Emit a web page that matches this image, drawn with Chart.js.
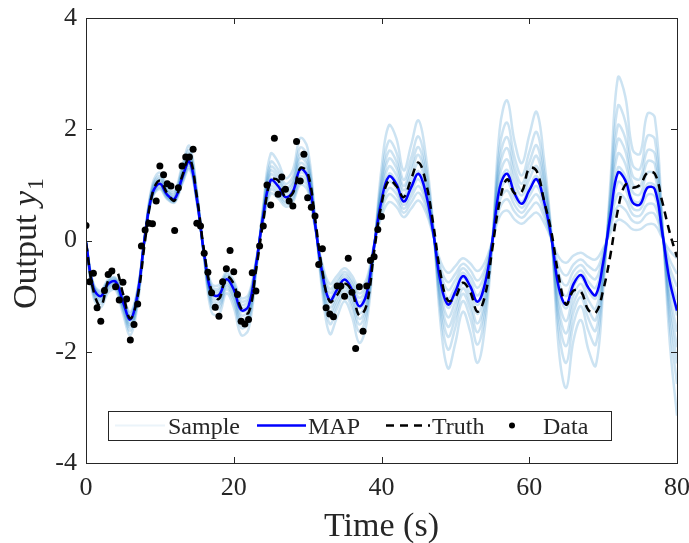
<!DOCTYPE html>
<html>
<head>
<meta charset="utf-8">
<script src="https://cdn.jsdelivr.net/npm/chart.js@4.4.1/dist/chart.umd.min.js"></script>
<style>
  html, body { margin: 0; padding: 0; background: #fff; }
  #wrap { width: 689px; height: 543px; }
</style>
</head>
<body>
<div id="wrap"><canvas id="fig" width="689" height="543"></canvas></div>
<script>
// time grid (s) for the curves
const time = [0,1,2,3,4,5,6,7,8,9,10,11,12,13,14,15,16,17,18,19,20,21,22,23,24,25,26,27,28,29,30,
  31,32,33,34,35,36,37,38,39,40,41,42,43,44,45,46,47,48,49,50,51,52,53,54,55,56,57,58,59,60,
  61,62,63,64,65,66,67,68,69,70,71,72,73,74,75,76,77,78,79,80];

const mapY = [-0.03,-0.85,-1.00,-0.78,-0.74,-1.10,-1.42,-0.95,
  0.10,0.85,1.02,0.82,0.75,1.12,1.42,0.75,
  -0.25,-0.95,-0.98,-0.70,-0.88,-1.25,-1.18,-0.45,
  0.45,1.08,0.98,0.78,0.88,1.28,1.15,0.30,
  -0.60,-1.08,-0.88,-0.70,-0.88,-1.18,-0.95,-0.10,
  0.72,1.15,1.02,0.70,0.95,1.20,0.85,0.15,
  -0.75,-1.15,-0.92,-0.64,-0.82,-1.10,-0.78,
  -0.02,0.95,1.20,0.85,0.66,0.90,1.10,0.70,
  0.05,-0.85,-1.15,-0.78,-0.62,-0.85,-0.98,-0.40,
  0.45,1.22,1.08,0.68,0.65,0.95,0.92,0.15,
  -0.72,-1.26];

const truthY = [-0.05,-0.90,-1.18,-0.72,-0.52,-0.95,-1.40,-1.00,
  0.00,0.85,1.08,0.85,0.72,1.15,1.48,0.80,
  -0.20,-0.90,-1.05,-0.65,-0.78,-1.22,-1.30,-0.55,
  0.35,1.08,1.08,0.78,0.85,1.30,1.22,0.40,
  -0.55,-1.10,-0.98,-0.78,-0.92,-1.35,-1.15,-0.20,
  0.65,1.08,0.98,0.78,1.10,1.40,1.05,0.30,
  -0.60,-1.08,-1.02,-0.76,-0.92,-1.28,-1.00,
  -0.15,0.70,1.10,0.85,0.88,1.30,1.25,0.72,
  0.15,-0.65,-1.15,-0.90,-0.92,-1.25,-1.30,-0.90,
  -0.25,0.55,1.00,0.95,1.00,1.22,1.20,0.70,
  0.15,-0.30];

// posterior samples
const sample1 = [-0.03,-0.77,-0.90,-0.70,-0.67,-0.99,-1.28,-0.86,
  0.09,0.77,0.92,0.74,0.68,1.01,1.28,0.68,
  -0.21,-0.78,-0.80,-0.57,-0.72,-1.03,-0.97,-0.37,
  0.35,0.84,0.76,0.61,0.69,1.00,0.90,0.23,
  -0.43,-0.78,-0.63,-0.50,-0.63,-0.85,-0.68,-0.07,
  0.43,0.69,0.61,0.42,0.57,0.72,0.51,0.09,
  -0.38,-0.58,-0.46,-0.32,-0.41,-0.55,-0.39,
  -0.01,0.43,0.54,0.38,0.30,0.41,0.50,0.32,
  0.02,-0.30,-0.40,-0.27,-0.22,-0.30,-0.34,-0.14,
  0.14,0.37,0.32,0.20,0.20,0.29,0.28,0.05,
  -0.18,-0.32];
const sample2 = [-0.03,-0.79,-0.93,-0.73,-0.69,-1.02,-1.32,-0.88,
  0.09,0.79,0.95,0.76,0.70,1.04,1.32,0.70,
  -0.22,-0.83,-0.86,-0.61,-0.77,-1.09,-1.03,-0.39,
  0.38,0.91,0.83,0.66,0.74,1.08,0.97,0.25,
  -0.48,-0.87,-0.71,-0.56,-0.71,-0.95,-0.76,-0.08,
  0.52,0.83,0.73,0.50,0.68,0.86,0.61,0.11,
  -0.49,-0.75,-0.60,-0.42,-0.53,-0.72,-0.51,
  -0.01,0.58,0.74,0.52,0.41,0.55,0.68,0.43,
  0.03,-0.46,-0.63,-0.43,-0.34,-0.46,-0.53,-0.22,
  0.23,0.62,0.55,0.35,0.33,0.48,0.47,0.08,
  -0.34,-0.60];
const sample3 = [-0.03,-0.81,-0.96,-0.74,-0.71,-1.05,-1.36,-0.91,
  0.10,0.81,0.97,0.78,0.72,1.07,1.36,0.72,
  -0.23,-0.87,-0.90,-0.64,-0.81,-1.15,-1.08,-0.41,
  0.41,0.97,0.88,0.70,0.79,1.15,1.04,0.27,
  -0.52,-0.94,-0.77,-0.61,-0.77,-1.03,-0.83,-0.09,
  0.59,0.94,0.84,0.57,0.78,0.98,0.70,0.12,
  -0.58,-0.89,-0.71,-0.50,-0.64,-0.85,-0.60,
  -0.02,0.71,0.90,0.64,0.50,0.68,0.83,0.53,
  0.04,-0.60,-0.81,-0.55,-0.44,-0.60,-0.69,-0.28,
  0.31,0.84,0.74,0.47,0.45,0.65,0.63,0.10,
  -0.48,-0.83];
const sample4 = [-0.03,-0.83,-0.98,-0.76,-0.73,-1.08,-1.39,-0.93,
  0.10,0.83,1.00,0.80,0.74,1.10,1.39,0.74,
  -0.24,-0.92,-0.94,-0.67,-0.85,-1.21,-1.14,-0.43,
  0.43,1.03,0.94,0.75,0.84,1.22,1.10,0.29,
  -0.57,-1.02,-0.83,-0.66,-0.83,-1.11,-0.90,-0.09,
  0.66,1.06,0.94,0.64,0.87,1.10,0.78,0.14,
  -0.68,-1.04,-0.83,-0.58,-0.74,-0.99,-0.70,
  -0.02,0.85,1.07,0.76,0.59,0.80,0.98,0.62,
  0.04,-0.74,-1.00,-0.68,-0.54,-0.74,-0.85,-0.35,
  0.39,1.05,0.93,0.58,0.56,0.82,0.79,0.13,
  -0.61,-1.07];
const sample5 = [-0.03,-0.86,-1.01,-0.79,-0.75,-1.11,-1.43,-0.96,
  0.10,0.86,1.03,0.83,0.76,1.13,1.43,0.76,
  -0.25,-0.97,-1.00,-0.71,-0.90,-1.27,-1.20,-0.46,
  0.46,1.10,1.00,0.80,0.90,1.31,1.18,0.31,
  -0.62,-1.11,-0.90,-0.72,-0.90,-1.21,-0.98,-0.10,
  0.75,1.20,1.06,0.73,0.99,1.25,0.88,0.16,
  -0.79,-1.21,-0.97,-0.67,-0.86,-1.16,-0.82,
  -0.02,1.00,1.27,0.90,0.70,0.95,1.16,0.74,
  0.05,-0.91,-1.22,-0.83,-0.66,-0.91,-1.04,-0.43,
  0.48,1.31,1.16,0.73,0.70,1.02,0.98,0.16,
  -0.77,-1.35];
const sample6 = [-0.03,-0.88,-1.04,-0.81,-0.77,-1.14,-1.48,-0.99,
  0.10,0.88,1.06,0.85,0.78,1.16,1.48,0.78,
  -0.27,-1.02,-1.05,-0.75,-0.94,-1.34,-1.26,-0.48,
  0.49,1.18,1.07,0.85,0.96,1.39,1.25,0.33,
  -0.67,-1.20,-0.98,-0.78,-0.98,-1.31,-1.06,-0.11,
  0.84,1.33,1.18,0.81,1.10,1.39,0.99,0.17,
  -0.90,-1.38,-1.10,-0.77,-0.98,-1.32,-0.94,
  -0.02,1.16,1.46,1.04,0.81,1.10,1.34,0.85,
  0.06,-1.07,-1.45,-0.98,-0.78,-1.07,-1.23,-0.50,
  0.58,1.56,1.38,0.87,0.83,1.22,1.18,0.19,
  -0.94,-1.64];
const sample7 = [-0.03,-0.91,-1.07,-0.83,-0.79,-1.18,-1.52,-1.02,
  0.11,0.91,1.09,0.88,0.80,1.20,1.52,0.80,
  -0.28,-1.07,-1.10,-0.79,-0.99,-1.41,-1.33,-0.51,
  0.52,1.25,1.13,0.90,1.02,1.48,1.33,0.35,
  -0.72,-1.29,-1.05,-0.84,-1.05,-1.41,-1.14,-0.12,
  0.92,1.47,1.31,0.90,1.22,1.54,1.09,0.19,
  -1.01,-1.55,-1.24,-0.86,-1.11,-1.49,-1.05,
  -0.03,1.32,1.66,1.18,0.91,1.25,1.52,0.97,
  0.07,-1.24,-1.67,-1.13,-0.90,-1.24,-1.43,-0.58,
  0.67,1.82,1.61,1.01,0.97,1.42,1.37,0.22,
  -1.10,-1.92];
const sample8 = [-0.03,-0.94,-1.10,-0.86,-0.81,-1.21,-1.56,-1.05,
  0.11,0.94,1.12,0.90,0.83,1.23,1.56,0.83,
  -0.30,-1.12,-1.16,-0.83,-1.04,-1.48,-1.39,-0.53,
  0.55,1.32,1.20,0.95,1.07,1.56,1.40,0.37,
  -0.77,-1.38,-1.13,-0.90,-1.13,-1.51,-1.22,-0.13,
  1.01,1.61,1.43,0.98,1.33,1.68,1.19,0.21,
  -1.13,-1.73,-1.38,-0.96,-1.23,-1.65,-1.17,
  -0.03,1.47,1.86,1.32,1.02,1.40,1.71,1.09,
  0.08,-1.40,-1.90,-1.29,-1.02,-1.40,-1.62,-0.66,
  0.77,2.07,1.84,1.16,1.11,1.62,1.56,0.26,
  -1.26,-2.21];
const sample9 = [-0.03,-0.97,-1.14,-0.89,-0.84,-1.25,-1.62,-1.08,
  0.11,0.97,1.16,0.93,0.86,1.28,1.62,0.86,
  -0.31,-1.19,-1.23,-0.88,-1.10,-1.57,-1.48,-0.56,
  0.59,1.41,1.28,1.02,1.15,1.67,1.50,0.39,
  -0.84,-1.50,-1.22,-0.97,-1.22,-1.64,-1.32,-0.14,
  1.12,1.79,1.59,1.09,1.48,1.87,1.33,0.23,
  -1.28,-1.96,-1.56,-1.09,-1.39,-1.87,-1.33,
  -0.04,1.68,2.12,1.50,1.17,1.59,1.95,1.24,
  0.10,-1.62,-2.20,-1.49,-1.18,-1.62,-1.87,-0.76,
  0.89,2.42,2.14,1.35,1.29,1.88,1.82,0.30,
  -1.48,-2.58];
const sample10 = [-0.04,-1.02,-1.20,-0.94,-0.89,-1.32,-1.70,-1.14,
  0.12,1.02,1.22,0.98,0.90,1.34,1.70,0.90,
  -0.34,-1.29,-1.33,-0.95,-1.20,-1.70,-1.60,-0.61,
  0.65,1.56,1.41,1.12,1.27,1.84,1.66,0.43,
  -0.94,-1.68,-1.37,-1.09,-1.37,-1.84,-1.48,-0.16,
  1.30,2.07,1.84,1.26,1.71,2.16,1.53,0.27,
  -1.50,-2.30,-1.84,-1.28,-1.64,-2.20,-1.56,
  -0.04,2.00,2.52,1.79,1.39,1.89,2.31,1.47,
  0.12,-1.96,-2.65,-1.79,-1.43,-1.96,-2.25,-0.92,
  1.08,2.93,2.59,1.63,1.56,2.28,2.21,0.36,
  -1.80,-3.15];

// measured data (first 40 s)
const dataT = [0,0.5,1,1.5,2,2.5,3,3.5,4,4.5,5,5.5,6,6.5,7,7.5,8,8.5,9,9.5,
  10,10.5,11,11.5,12,12.5,13,13.5,14,14.5,15,15.5,16,16.5,17,17.5,18,18.5,19,19.5,
  20,20.5,21,21.5,22,22.5,23,23.5,24,24.5,25,25.5,26,26.5,27,27.5,28,28.5,29,29.5,
  30,30.5,31,31.5,32,32.5,33,33.5,34,34.5,35,35.5,36,36.5,37,37.5,38,38.5,39,39.5,40];
const dataY = [0.27,-0.74,-0.59,-1.21,-1.45,-0.90,-0.61,-0.55,-0.83,-1.07,
  -0.75,-1.05,-1.79,-1.51,-1.14,-0.10,0.19,0.31,0.30,0.71,
  1.34,1.18,1.02,0.98,0.18,0.95,1.34,1.50,1.50,1.64,
  0.31,0.26,-0.23,-0.57,-0.94,-1.20,-1.36,-0.74,-0.51,-0.18,
  -0.56,-0.97,-1.45,-1.50,-1.42,-0.58,-0.91,-0.10,0.26,1.00,
  0.64,1.84,0.83,1.14,0.92,0.71,0.62,1.78,1.07,1.55,
  0.77,0.60,0.44,-0.43,-0.15,-1.21,-1.32,-1.37,-0.82,-0.82,
  -1.00,-0.32,-0.93,-1.94,-0.83,-1.63,-0.82,-0.36,-0.29,0.20,
  0.43];

const xTicks = { min: 0, max: 80, step: 20 };
const yTicks = { min: -4, max: 4, step: 2 };

const INK = '#262626';
const SERIF = '"Liberation Serif", "Times New Roman", serif';
const SAMPLE_COLOR = 'rgba(0,114,189,0.2)';

const samples = [sample1, sample2, sample3, sample4, sample5, sample6, sample7, sample8, sample9, sample10];
const pts = ys => time.map((t, i) => ({ x: t, y: ys[i] }));

const datasets = [
  ...samples.map(s => ({
    label: 'Sample', data: pts(s), borderColor: SAMPLE_COLOR, borderWidth: 2.5,
    pointRadius: 0, tension: 0.4, order: 4,
  })),
  { label: 'MAP', data: pts(mapY), borderColor: '#0000ff', borderWidth: 2.5, pointRadius: 0, tension: 0.4, order: 3 },
  { label: 'Truth', data: pts(truthY), borderColor: '#000', borderWidth: 2.5, borderDash: [8, 6], pointRadius: 0, tension: 0.4, order: 2 },
  {
    label: 'Data', data: dataT.map((t, i) => ({ x: t, y: dataY[i] })), showLine: false,
    pointRadius: 3.5, pointBackgroundColor: '#000', pointBorderWidth: 0, order: 1,
  },
];

// box, inward ticks, axis titles and legend in MATLAB style
const decor = {
  id: 'decor',
  afterDatasetsDraw(chart) {
    const { ctx, chartArea: a, scales: { x, y } } = chart;
    ctx.save();
    ctx.strokeStyle = INK;
    ctx.lineWidth = 1;
    ctx.strokeRect(Math.round(a.left) + 0.5, Math.round(a.top) + 0.5, Math.round(a.right - a.left), Math.round(a.bottom - a.top));
    ctx.beginPath();
    x.ticks.forEach(t => {
      const px = Math.round(x.getPixelForValue(t.value)) + 0.5;
      ctx.moveTo(px, a.bottom); ctx.lineTo(px, a.bottom - 6);
      ctx.moveTo(px, a.top); ctx.lineTo(px, a.top + 6);
    });
    y.ticks.forEach(t => {
      const py = Math.round(y.getPixelForValue(t.value)) + 0.5;
      ctx.moveTo(a.left, py); ctx.lineTo(a.left + 6, py);
      ctx.moveTo(a.right, py); ctx.lineTo(a.right - 6, py);
    });
    ctx.stroke();

    // legend
    const lx = 108.5, ly = 411.5, lw = 503, lh = 29, cy = 425.5;
    ctx.fillStyle = '#fff';
    ctx.fillRect(lx, ly, lw, lh);
    ctx.strokeStyle = INK;
    ctx.strokeRect(lx, ly, lw, lh);
    ctx.lineWidth = 2;
    ctx.strokeStyle = 'rgba(0,114,189,0.08)';
    ctx.beginPath(); ctx.moveTo(115, cy); ctx.lineTo(165, cy); ctx.stroke();
    ctx.lineWidth = 2.5;
    ctx.strokeStyle = '#0000ff';
    ctx.beginPath(); ctx.moveTo(257, cy); ctx.lineTo(306, cy); ctx.stroke();
    ctx.strokeStyle = '#000';
    ctx.setLineDash([8, 6]);
    ctx.beginPath(); ctx.moveTo(386, cy); ctx.lineTo(430, cy); ctx.stroke();
    ctx.setLineDash([]);
    ctx.fillStyle = '#000';
    ctx.beginPath(); ctx.arc(512, cy, 3, 0, Math.PI * 2); ctx.fill();
    ctx.fillStyle = INK;
    ctx.font = '24px ' + SERIF;
    ctx.textBaseline = 'alphabetic';
    ctx.textAlign = 'left';
    ctx.fillText('Sample', 168, 434);
    ctx.fillText('MAP', 308, 434);
    ctx.fillText('Truth', 432, 434);
    ctx.fillText('Data', 543, 434);

    // x title
    ctx.font = '34px ' + SERIF;
    ctx.textAlign = 'center';
    ctx.fillText('Time (s)', (a.left + a.right) / 2, 536);

    // y title with italic y and subscript 1
    ctx.translate(36, 244);
    ctx.rotate(-Math.PI / 2);
    ctx.textAlign = 'left';
    const f1 = '34px ' + SERIF, f2 = 'italic 34px ' + SERIF, f3 = '24px ' + SERIF;
    ctx.font = f1; const w1 = ctx.measureText('Output ').width;
    ctx.font = f2; const w2 = ctx.measureText('y').width;
    ctx.font = f3; const w3 = ctx.measureText('1').width;
    let x0 = -(w1 + w2 + w3) / 2;
    ctx.font = f1; ctx.fillText('Output ', x0, 0);
    ctx.font = f2; ctx.fillText('y', x0 + w1, 0);
    ctx.font = f3; ctx.fillText('1', x0 + w1 + w2 + 1, 7);
    ctx.restore();
  },
};

new Chart(document.getElementById('fig'), {
  type: 'line',
  data: { datasets },
  options: {
    responsive: false,
    animation: false,
    devicePixelRatio: 1,
    layout: { padding: { left: 0, right: 12, top: 18, bottom: 0 } },
    plugins: { legend: { display: false }, tooltip: { enabled: false } },
    scales: {
      x: {
        type: 'linear', min: xTicks.min, max: xTicks.max,
        afterFit(s) { s.height = 80; s.paddingLeft = 0; s.paddingRight = 0; },
        grid: { display: false, drawTicks: false },
        border: { display: false },
        ticks: { stepSize: xTicks.step, color: INK, padding: 10, maxRotation: 0, font: { family: SERIF, size: 26 } },
      },
      y: {
        type: 'linear', min: yTicks.min, max: yTicks.max,
        afterFit(s) { s.width = 86; s.paddingTop = 0; s.paddingBottom = 0; },
        grid: { display: false, drawTicks: false },
        border: { display: false },
        ticks: { stepSize: yTicks.step, color: INK, padding: 9, font: { family: SERIF, size: 26 } },
      },
    },
  },
  plugins: [decor],
});
</script>
</body>
</html>
